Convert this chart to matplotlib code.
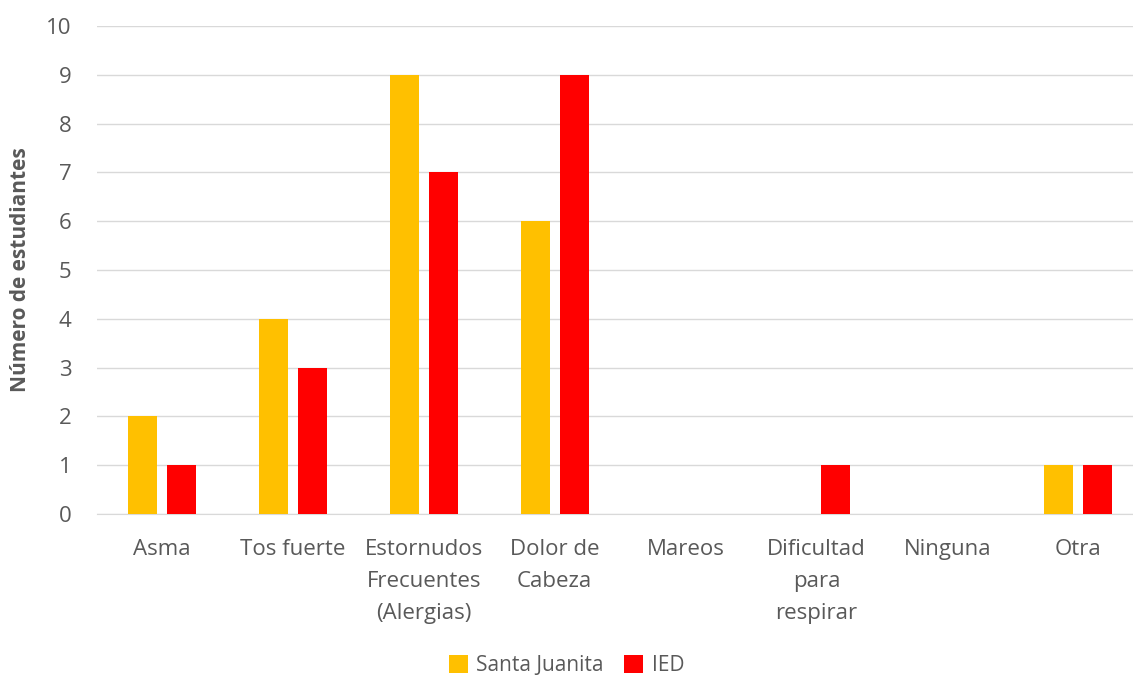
import matplotlib.pyplot as plt
import numpy as np

plt.rcParams['font.family'] = ['Open Sans', 'DejaVu Sans']

# data
categories = ['Asma', 'Tos fuerte', 'Estornudos\nFrecuentes\n(Alergias)', 'Dolor de\nCabeza',
              'Mareos', 'Dificultad\npara\nrespirar', 'Ninguna', 'Otra']
santa_juanita = [2, 4, 9, 6, 0, 0, 0, 1]
ied = [1, 3, 7, 9, 0, 1, 0, 1]

fig = plt.figure(figsize=(11.33, 6.75), dpi=100)
ax = fig.add_axes([0.0853, 0.2385, 0.924, 0.723])

x = np.arange(len(categories))
w = 0.222
off = 0.149
ax.bar(x - off, santa_juanita, w, color='#FFC000', label='Santa Juanita', zorder=3)
ax.bar(x + off, ied, w, color='#FF0000', label='IED', zorder=3)

ax.set_xlim(-0.5, len(categories) - 0.5)
ax.set_ylim(0, 10)
ax.set_yticks(range(0, 11))
ax.grid(axis='y', color='#D9D9D9', linewidth=1, zorder=0)
ax.set_xticks(x)
ax.set_xticklabels(categories, fontsize=16, color='#595959', linespacing=1.68)
ax.tick_params(axis='y', labelsize=16, labelcolor='#595959', length=0, pad=18)
ax.tick_params(axis='x', length=0, pad=18)
for s in ['top', 'right', 'left']:
    ax.spines[s].set_visible(False)
ax.spines['bottom'].set_color('#D9D9D9')

ax.set_ylabel('Número de estudiantes', fontsize=15, fontweight='bold', color='#595959', labelpad=11)

fig.legend(loc='center', bbox_to_anchor=(0.5, 0.014), ncol=2, frameon=False,
           fontsize=15, labelcolor='#595959', handlelength=0.9, handleheight=0.9,
           columnspacing=1.0, handletextpad=0.4, borderaxespad=0)

fig.savefig('out.png', dpi=100)
